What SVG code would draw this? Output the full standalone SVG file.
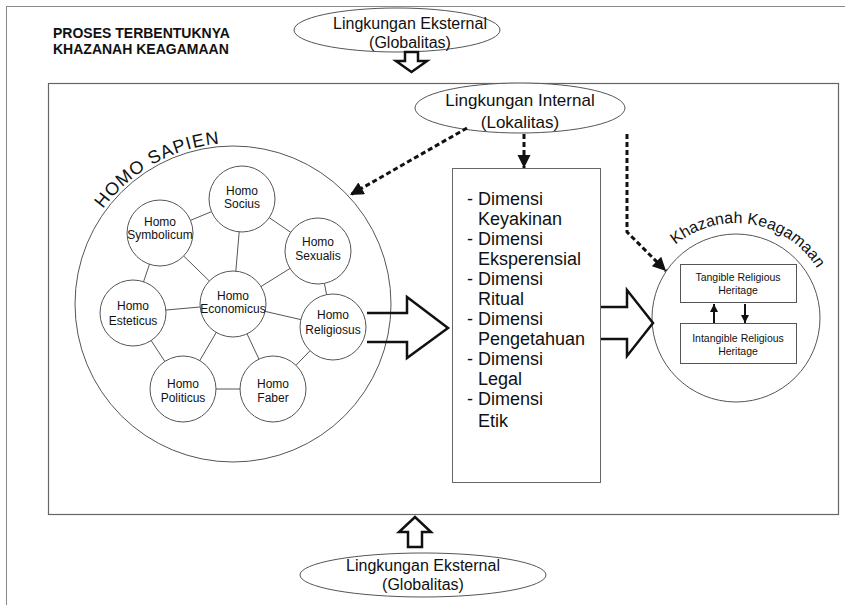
<svg xmlns="http://www.w3.org/2000/svg" width="845" height="605" viewBox="0 0 845 605">
<defs>
<style>
text{font-family:"Liberation Sans",Arial,sans-serif;fill:#111}
.thin{fill:#fff;stroke:#555;stroke-width:1}
.edge{stroke:#555;stroke-width:1;fill:none}
.dash{stroke:#111;stroke-width:3;fill:none;stroke-dasharray:5 3}
.hollow{fill:none;stroke:#111;stroke-width:2.5;stroke-linejoin:miter}
.n{font-size:12px;text-anchor:middle}
.dim{font-size:18px}
</style>
<marker id="ah" viewBox="0 0 10 10" refX="10" refY="5" markerWidth="4.5" markerHeight="4.5" orient="auto" markerUnits="strokeWidth">
<path d="M0,0 L10,5 L0,10 z" fill="#111"/>
</marker>
<marker id="sh" viewBox="0 0 10 10" refX="10" refY="5" markerWidth="4" markerHeight="4" orient="auto" markerUnits="strokeWidth">
<path d="M0,0 L10,5 L0,10 z" fill="#111"/>
</marker>
<path id="arcHS" d="M 73.9 275.5 A 163 163 0 0 1 291.9 153.6"/>
<path id="arcKK" d="M 662.7 257.6 A 95 95 0 0 1 825.0 284.7"/>
</defs>

<g id="frame">
<line x1="6" y1="6.5" x2="845" y2="6.5" stroke="#888" stroke-width="1"/>
<line x1="6.5" y1="6" x2="6.5" y2="605" stroke="#888" stroke-width="1"/>
<rect x="48.5" y="83.5" width="790" height="431" fill="none" stroke="#666" stroke-width="1.2"/>
</g>

<g id="title">
<text x="53" y="38" font-size="14" font-weight="bold">PROSES TERBENTUKNYA</text>
<text x="53" y="54" font-size="14" font-weight="bold">KHAZANAH KEAGAMAAN</text>
</g>

<g id="ext-top">
<ellipse cx="397" cy="30" rx="103" ry="22" class="thin"/>
<text x="410" y="29" font-size="16" text-anchor="middle">Lingkungan Eksternal</text>
<text x="410" y="48" font-size="16" text-anchor="middle">(Globalitas)</text>
</g>

<g id="ext-bottom">
<ellipse cx="423" cy="575" rx="123" ry="22" class="thin"/>
<text x="423" y="571" font-size="16" text-anchor="middle">Lingkungan Eksternal</text>
<text x="423" y="590" font-size="16" text-anchor="middle">(Globalitas)</text>
</g>

<g id="int">
<ellipse cx="520" cy="108" rx="105" ry="25" class="thin"/>
<text x="520" y="106" font-size="17" text-anchor="middle">Lingkungan Internal</text>
<text x="520" y="128" font-size="17" text-anchor="middle">(Lokalitas)</text>
</g>

<g id="homo-sapien">
<circle cx="233" cy="304" r="158" class="thin"/>
<text font-size="18" letter-spacing="1"><textPath href="#arcHS" startOffset="50%" text-anchor="middle">HOMO SAPIEN</textPath></text>
</g>

<g id="homo-edges">
<line x1="242" y1="199" x2="160" y2="233" class="edge"/>
<line x1="242" y1="199" x2="318" y2="251" class="edge"/>
<line x1="242" y1="199" x2="233" y2="304" class="edge"/>
<line x1="160" y1="233" x2="133" y2="313" class="edge"/>
<line x1="160" y1="233" x2="233" y2="304" class="edge"/>
<line x1="318" y1="251" x2="233" y2="304" class="edge"/>
<line x1="318" y1="251" x2="333" y2="327" class="edge"/>
<line x1="133" y1="313" x2="233" y2="304" class="edge"/>
<line x1="133" y1="313" x2="183" y2="389" class="edge"/>
<line x1="233" y1="304" x2="183" y2="389" class="edge"/>
<line x1="233" y1="304" x2="273" y2="389" class="edge"/>
<line x1="233" y1="304" x2="333" y2="327" class="edge"/>
<line x1="183" y1="389" x2="273" y2="389" class="edge"/>
<line x1="273" y1="389" x2="333" y2="327" class="edge"/>
</g>

<g id="socius"><circle cx="242" cy="199" r="33" class="thin"/><text class="n" x="242" y="195">Homo</text><text class="n" x="242" y="208">Socius</text></g>
<g id="symbolicum"><circle cx="160" cy="233" r="33" class="thin"/><text class="n" x="160" y="226">Homo</text><text class="n" x="160" y="239" font-size="11.5">Symbolicum</text></g>
<g id="sexualis"><circle cx="318" cy="251" r="33" class="thin"/><text class="n" x="318" y="246">Homo</text><text class="n" x="318" y="260">Sexualis</text></g>
<g id="esteticus"><circle cx="133" cy="313" r="33" class="thin"/><text class="n" x="133" y="310">Homo</text><text class="n" x="133" y="325">Esteticus</text></g>
<g id="economicus"><circle cx="233" cy="304" r="33" class="thin"/><text class="n" x="233" y="300">Homo</text><text class="n" x="233" y="313" font-size="11">Economicus</text></g>
<g id="religiosus"><circle cx="333" cy="327" r="33" class="thin"/><text class="n" x="333" y="319">Homo</text><text class="n" x="333" y="334">Religiosus</text></g>
<g id="politicus"><circle cx="183" cy="389" r="33" class="thin"/><text class="n" x="183" y="388">Homo</text><text class="n" x="183" y="402">Politicus</text></g>
<g id="faber"><circle cx="273" cy="389" r="33" class="thin"/><text class="n" x="273" y="388">Homo</text><text class="n" x="273" y="402">Faber</text></g>

<g id="dimensi">
<rect x="452.5" y="168.5" width="148" height="314" fill="#fff" stroke="#666" stroke-width="1"/>
<text class="dim" x="467" y="205">- Dimensi</text>
<text class="dim" x="478" y="225">Keyakinan</text>
<text class="dim" x="467" y="245">- Dimensi</text>
<text class="dim" x="478" y="265">Eksperensial</text>
<text class="dim" x="467" y="285">- Dimensi</text>
<text class="dim" x="478" y="305">Ritual</text>
<text class="dim" x="467" y="325">- Dimensi</text>
<text class="dim" x="478" y="345">Pengetahuan</text>
<text class="dim" x="467" y="365">- Dimensi</text>
<text class="dim" x="478" y="385">Legal</text>
<text class="dim" x="467" y="405">- Dimensi</text>
<text class="dim" x="478" y="427">Etik</text>
</g>

<g id="khazanah">
<circle cx="736" cy="318" r="84" class="thin"/>
<text font-size="16"><textPath href="#arcKK" startOffset="50%" text-anchor="middle">Khazanah Keagamaan</textPath></text>
</g>
<g id="tangible">
<rect x="680.5" y="264.5" width="116" height="38" class="thin"/>
<text x="738" y="281" font-size="10.5" text-anchor="middle">Tangible Religious</text>
<text x="738" y="294" font-size="10.5" text-anchor="middle">Heritage</text>
</g>
<g id="intangible">
<rect x="680.5" y="323.5" width="116" height="40" class="thin"/>
<text x="738" y="342" font-size="10.5" text-anchor="middle">Intangible Religious</text>
<text x="738" y="355" font-size="10.5" text-anchor="middle">Heritage</text>
</g>

<g id="connectors">
<path class="dash" d="M467,128 L350,195" marker-end="url(#ah)"/>
<path class="dash" d="M524,134 L524,168" marker-end="url(#ah)"/>
<path class="dash" d="M627,134 L627,232 L666,271" marker-end="url(#ah)"/>
<path class="hollow" d="M367,313 L407,313 L407,297 L448,328 L407,358 L407,342 L367,342"/>
<path class="hollow" d="M601,307 L627,307 L627,290 L653,323 L627,356 L627,339 L601,339"/>
<path class="hollow" d="M405,52 L418,52 L418,61 L427,61 L411.5,72 L396,61 L405,61 Z" stroke-width="2"/>
<path class="hollow" d="M408,547 L422,547 L422,532 L431,532 L415,517 L399,532 L408,532 Z" stroke-width="2"/>
<line x1="714" y1="323" x2="714" y2="304" stroke="#111" stroke-width="2" marker-end="url(#sh)"/>
<line x1="745" y1="304" x2="745" y2="323" stroke="#111" stroke-width="2" marker-end="url(#sh)"/>
</g>
</svg>
